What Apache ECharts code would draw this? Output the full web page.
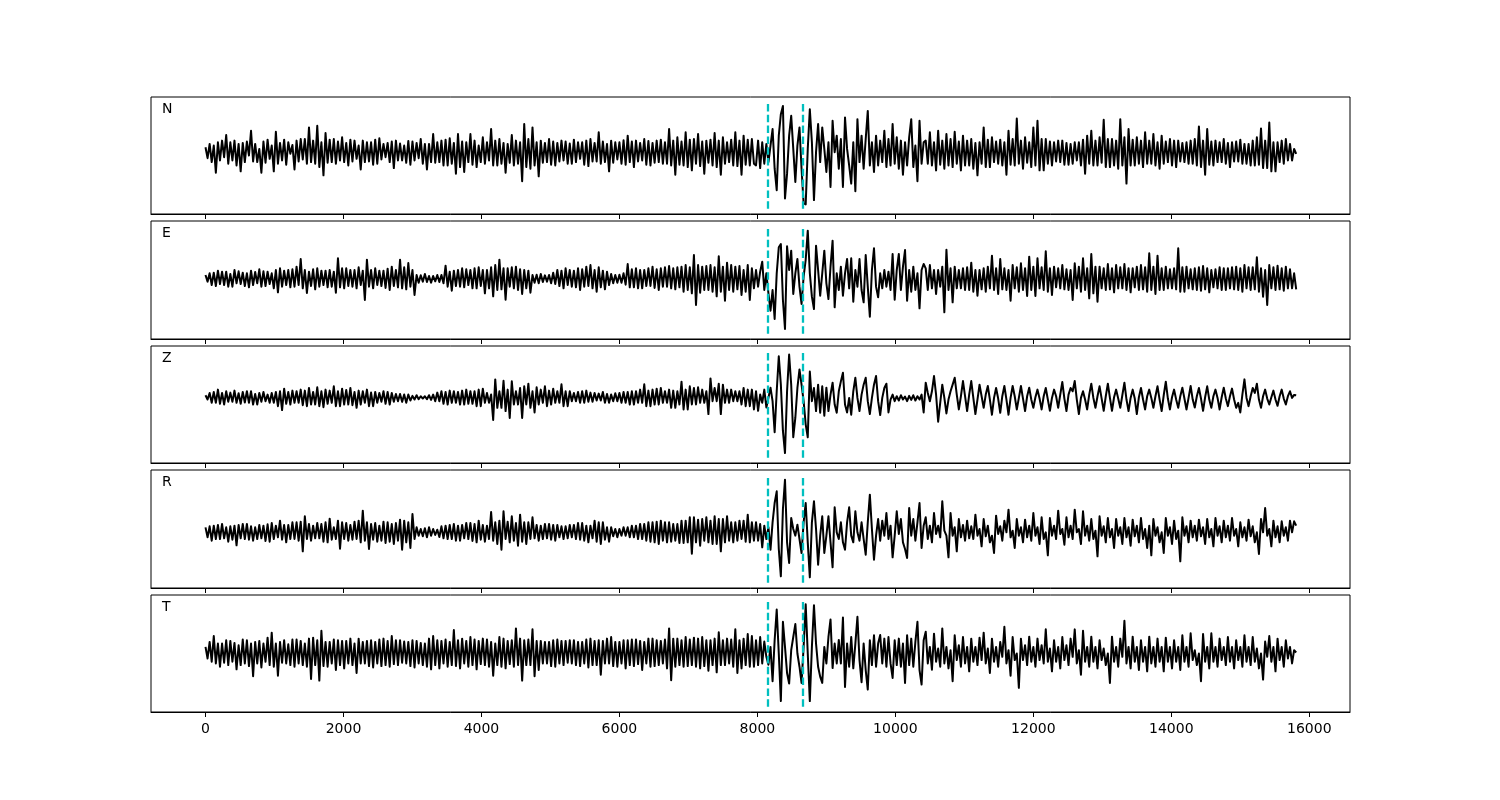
<!DOCTYPE html>
<html>
<head>
<meta charset="utf-8">
<script src="https://cdn.jsdelivr.net/npm/echarts@6/dist/echarts.min.js"></script>
<style>
  html, body { margin: 0; padding: 0; background: #fff; }
  #chart { width: 1500px; height: 800px; }
</style>
</head>
<body>
<div id="chart"></div>
<script>
// ---- data (amplitudes; sample interval 30) ----
const panelNames = ['N', 'E', 'Z', 'R', 'T'];
const sampleStep = 30;
// first sample index of each stretch: pre-event noise, arrival window, coda
const segmentStart = [0, 266, 348];
const picks = [8150, 8660];
const xTickValues = [0, 2000, 4000, 6000, 8000, 10000, 12000, 14000, 16000];

const N_pre = [
  25,-8, 35,-20, 30,-52, 40,-15, 45,-5, 62,-25, 40,-15, 45,-30, 35,-48, 38,-20,
  42,0, 75,-18, 35,-20, 20,-52, 42,-22, 48,-10, 30,-48, 72,-25, 38,-15, 48,-28,
  40,5, 32,-42, 45,-18, 50,-12, 50,-25, 85,-20, 45,-25, 90,-35, 40,-60, 68,-22,
  48,-20, 50,-25, 42,-15, 55,-20, 38,-30, 48,-18, 45,-10, 30,-42, 45,-20, 40,-18,
  40,-28, 48,-25, 52,-12, 35,-5, 38,-20, 42,-38, 45,-15, 36,-15, 30,-22, 44,-28,
  42,-15, 38,-8, 50,-25, 35,-42, 35,-20, 65,-22, 40,-20, 45,-30, 48,-30, 52,-25,
  38,-55, 65,-35, 42,-50, 40,-20, 65,-28, 45,-35, 30,-20, 55,-25, 40,-15, 80,-30,
  45,-30, 50,-25, 38,-52, 35,-22, 62,-30, 45,-25, 40,-78, 95,-35, 50,-40, 85,-30,
  40,-63, 45,-22, 38,-20, 50,-28, 42,-30, 38,-18, 45,-15, 42,-25, 36,-25, 48,-20,
  40,-10, 40,-28, 45,-32, 50,-18, 38,-18, 70,-25, 42,-20, 35,-48, 45,-22, 40,-12,
  40,-25, 46,-28, 60,-20, 42,-35, 45,-18, 38,-15, 50,-28, 44,-30, 38,-22, 45,-20,
  48,-25, 40,-25, 80,-30, 45,-58, 55,-28, 42,-30, 70,-35, 48,-45, 50,-25, 65,-32,
  42,-55, 45,-22, 48,-30, 68,-35, 45,-58, 55,-25, 40,-20, 48,-30, 70,-32, 45,-58,
  60,-28, 48,-30, 50,-25
];
const N_arrival = [
  -30, 45, -38, 40, -25, 35, -20, 30, 80, -40,
  -105, 60, 125, 150, -130, -55, 60, 120, 20, -80,
  30, 85, -40, -145, -148, 20, 140, 40, -135, 10,
  95, -20, 85, 20, -50, 40, -95, 105, 10, 60,
  -40, 50, -95, 115, 20, -30, -85, 40, -108, 110,
  -20, 60, -40, 50, 135, -30, 40, -50, 60, -30,
  45, -20, 75, -35, 50, -30, 95, -25, 55, -40,
  45, -58, 40, -30, 55, 110, -35, 30, -78, 105,
  -25, 40
];
const N_coda = [
  45,-25, 70,-30, 40,-45, 75,-28, 45,-40, 65,-30, 50,-35, 72,-25, 42,-45, 60,-30,
  45,-30, 50,-40, 38,-60, 40,-25, 85,-35, 48,-35, 55,-20, 42,-25, 48,-30, 40,-58,
  75,-28, 50,-30, 112,-25, 45,-40, 55,-22, 40,-35, 85,-30, 105,-45, 50,-45, 50,-25,
  42,-30, 40,-18, 45,-20, 45,-28, 38,-28, 35,-25, 40,-15, 40,-30, 48,-55, 60,-25,
  75,-30, 45,-30, 55,-22, 108,-35, 50,-35, 50,-30, 45,-40, 110,-30, 55,-85, 80,-30,
  48,-30, 55,-25, 45,-35, 70,-25, 45,-25, 65,-30, 40,-40, 60,-25, 42,-20, 50,-30,
  45,-35, 45,-18, 38,-20, 40,-25, 45,-25, 50,-30, 88,-35, 45,-58, 80,-28, 42,-30,
  45,-20, 40,-20, 50,-25, 38,-35, 40,-18, 42,-18, 48,-25, 35,-25, 35,-30, 45,-30,
  55,-28, 82,-38, 45,-38, 100,-48, 40,-48, 40,-20, 45,-25, 50,-15, 35,-15, 20,5
];

const E_pre = [
  15,-5, 20,-15, 22,-18, 28,-12, 25,-15, 25,-20, 18,-20, 30,-10, 26,-12, 22,-18,
  20,-22, 28,-15, 24,-10, 32,-20, 26,-18, 25,-12, 20,-25, 30,-37, 35,-20, 28,-15,
  30,-22, 32,-20, 40,-15, 63,-25, 30,-39, 25,-18, 32,-28, 35,-20, 28,-15, 28,-22,
  30,-20, 25,-38, 65,-22, 35,-25, 35,-18, 30,-20, 30,-25, 38,-15, 28,-60, 61,-20,
  30,-25, 35,-15, 28,-18, 28,-24, 34,-30, 40,-18, 30,-22, 61,-25, 38,-28, 51,-20,
  30,-45, 15,-8, 14,-5, 18,-6, 12,-8, 12,-4, 15,-6, 15,-10, 43,-20, 25,-32,
  28,-18, 30,-20, 35,-22, 32,-15, 30,-25, 35,-25, 38,-18, 30,-40, 30,-25, 38,-49,
  45,-30, 61,-28, 35,-59, 35,-20, 38,-25, 40,-30, 32,-42, 30,-25, 28,-38, 15,-8,
  16,-10, 18,-6, 14,-5, 15,-10, 22,-12, 30,-18, 28,-25, 35,-15, 30,-20, 28,-22,
  35,-30, 32,-20, 40,-18, 45,-25, 30,-35, 38,-22, 28,-28, 25,-15, 18,-10, 15,-8,
  16,-8, 20,-14, 48,-22, 32,-22, 35,-25, 30,-25, 30,-18, 35,-18, 40,-24, 32,-30,
  35,-20, 38,-20, 42,-25, 35,-28, 38,-22, 40,-35, 45,-30, 38,-40, 75,-75, 45,-38,
  40,-30, 42,-30, 45,-35, 38,-49, 71,-35, 40,-62, 52,-30, 45,-35, 40,-28, 42,-45,
  30,-35, 45,-60, 35,-25
];
const E_arrival = [
  30, -20, 25, 55, -30, 20, -40, -92, -30, -117,
  20, 98, 108, -60, -147, 101, 30, 88, -42, 20,
  63, -20, -72, 10, 60, 148, 20, -50, -87, 103,
  30, -47, 20, 88, -10, -57, 40, 118, -82, 20,
  -30, 40, -47, 20, 63, -25, 65, -65, 30, -20,
  63, -30, -67, 75, -20, -110, 30, 95, -20, -52,
  20, -25, 30, -20, 25, -30, 78, -59, 30, 78,
  -30, 40, 90, -62, 30, -35, 40, -30, 20, -85,
  30, 48
];
const E_coda = [
  35,-30, 45,-25, 30,-42, 30,-20, 40,-97, 91,-30, 35,-67, 40,-25, 30,-25, 35,-30,
  38,-30, 52,-35, 30,-47, 30,-28, 35,-35, 40,-25, 73,-30, 35,-42, 63,-28, 35,-30,
  30,-62, 45,-25, 38,-35, 50,-30, 35,-48, 70,-30, 40,-48, 65,-25, 38,-30, 86,-35,
  35,-45, 40,-22, 35,-25, 45,-28, 32,-30, 30,-60, 50,-25, 40,-35, 65,-30, 35,-55,
  78,-40, 40,-65, 40,-25, 35,-30, 48,-28, 35,-37, 45,-25, 38,-25, 48,-30, 35,-37,
  35,-22, 40,-30, 45,-28, 38,-35, 80,-30, 40,-42, 73,-30, 35,-30, 40,-25, 32,-25,
  35,-28, 95,-35, 38,-35, 40,-25, 32,-28, 35,-30, 38,-32, 42,-28, 35,-37, 30,-22,
  32,-25, 38,-30, 35,-30, 35,-25, 38,-28, 40,-30, 35,-35, 45,-25, 38,-30, 38,-28,
  68,-35, 35,-50, 30,-75, 45,-25, 38,-30, 43,-28, 35,-32, 40,-25, 32,-25, 20,-28
];

const Z_pre = [
  28,15, 35,5, 38,5, 45,2, 35,0, 40,8, 36,8, 42,5, 34,2, 38,6,
  40,5, 40,0, 32,0, 35,8, 38,10, 30,5, 35,5, 38,-5, 40,-17, 48,2,
  38,0, 42,5, 40,5, 45,-2, 42,-5, 50,0, 38,0, 52,-5, 40,-8, 45,2,
  42,5, 55,-5, 40,-5, 48,0, 44,0, 50,-2, 38,-10, 42,0, 40,5, 45,-5,
  36,-5, 38,5, 35,8, 40,2, 38,0, 35,8, 32,10, 32,8, 30,5, 30,12,
  26,15, 28,16, 25,18, 25,16, 28,14, 30,10, 36,10, 40,2, 38,0, 42,5,
  40,5, 38,0, 42,0, 45,2, 40,2, 40,-5, 45,-5, 48,5, 35,5, 30,-47,
  76,-10, 40,-10, 72,-20, 45,-41, 70,0, 40,0, 50,-41, 55,0, 63,-10, 40,-24,
  52,0, 45,5, 55,-5, 42,0, 48,5, 40,5, 61,-5, 40,-5, 40,10, 35,10,
  38,5, 40,5, 42,8, 36,8, 35,12, 33,12, 38,5, 32,5, 30,10, 34,10,
  35,5, 38,5, 38,0, 40,0, 40,5, 45,5, 61,-5, 42,-5, 45,0, 48,0,
  50,5, 40,5, 45,-10, 42,-10, 40,0, 69,-15, 45,-15, 55,0, 50,0, 52,5,
  45,5, 40,-29, 79,10, 50,10, 63,-29, 60,5, 45,5, 45,10, 40,10, 40,0,
  50,-5, 45,-5, 45,-15
];
const Z_arrival = [
  40, -19, 30, 5, 45, -9, 20, 51, 10, -84,
  40, 146, 60, -80, -147, 40, 151, 60, -99, -40,
  50, 106, 60, 10, -60, -99, 100, 10, 50, -20,
  60, -25, 55, -34, 51, -20, 30, 66, 0, -25,
  40, 70, 96, 0, -24, 20, -31, 40, 81, 20,
  -20, 30, 60, 81, 10, -29, 20, 60, 86, 10,
  -32, 20, 50, 63, -24, 15, 30, 10, 25, 12,
  28, 15, 24, 10, 26, 14, 28, 12, 25, 15,
  30, -24
];
const Z_coda = [
  66,35, 10,40, 86,30, -52,5, 60,20, -27,15, 40,60, 81,30, -15,25, 71,25,
  -20,30, 71,20, -29,15, 60,25, -10,30, 56,15, -31,20, 50,18, -25,25, 56,15,
  -31,20, 56,25, -15,20, 56,18, -20,25, 51,15, -10,22, 45,18, -15,25, 50,15,
  -19,20, 45,25, -10,30, 68,18, -20,30, 50,40, 71,15, -29,20, 40,15, -15,30,
  63,20, -10,25, 55,18, -19,25, 63,20, -19,22, 45,18, -10,28, 66,15, -20,20,
  45,18, -29,22, 50,15, -15,25, 45,20, -10,25, 55,15, -20,28, 69,18, -15,22,
  45,15, -10,25, 51,18, -15,20, 56,15, -9,25, 50,18, -19,22, 55,15, -10,25,
  45,20, -15,22, 51,18, -5,25, 48,15, -10,5, -24,30, 76,20, -5,25, 50,35,
  63,15, -10,25, 45,18, 0,22, 42,15, -4,25, 45,18, 0,25, 40,20, 29,28
];

const R_pre = [
  5,-25, 8,-35, 10,-30, 12,-30, 15,-28, 5,-38, 8,-32, 10,-49, 12,-28, 15,-30,
  15,-32, 8,-35, 5,-30, 12,-28, 10,-36, 14,-38, 18,-30, 10,-25, 25,-32, 12,-40,
  12,-30, 20,-30, 20,-35, 22,-67, 38,-30, 15,-35, 10,-28, 18,-28, 15,-38, 20,-40,
  31,-32, 5,-30, 25,-59, 20,-30, 18,-35, 12,-32, 22,-30, 25,-40, 55,-35, 20,-60,
  15,-32, 18,-38, 10,-35, 22,-42, 20,-38, 15,-45, 18,-35, 28,-62, 25,-40, 20,-57,
  45,-30, 5,-20, 0,-22, 2,-25, 5,-20, 0,-18, -2,-24, 8,-28, 10,-30, 12,-30,
  15,-35, 10,-35, 12,-28, 18,-30, 18,-36, 15,-40, 25,-32, 12,-38, 10,-30, 51,-35,
  20,-45, 25,-62, 53,-30, 22,-40, 38,-35, 18,-50, 43,-38, 20,-45, 20,-30, 35,-28,
  12,-35, 10,-30, 15,-28, 15,-32, 12,-35, 12,-25, 8,-30, 8,-28, 12,-25, 12,-30,
  18,-32, 18,-35, 10,-40, 10,-28, 25,-38, 20,-45, 20,-32, 5,-38, 5,-22, 0,-25,
  0,-20, 5,-20, 5,-25, 10,-25, 10,-30, 15,-30, 15,-35, 20,-38, 20,-40, 22,-45,
  25,-35, 20,-40, 20,-38, 15,-35, 15,-42, 25,-42, 25,-40, 35,-74, 35,-40, 28,-50,
  30,-35, 35,-40, 25,-45, 38,-45, 30,-67, 30,-40, 38,-35, 20,-40, 20,-35, 25,-30,
  25,-38, 43,-40, 20,-35
];
const R_arrival = [
  20, -35, 15, -55, 10, -30, 5, -62, 20, 78,
  113, -60, -142, 60, 148, -40, -102, 33, 0, -20,
  13, -30, -72, 20, 78, -40, -145, 20, 83, 0,
  -107, -20, 38, -72, -20, 38, -40, -115, 65, -10,
  -30, 20, -40, -62, 20, 65, -20, -40, 53, -10,
  -35, 20, -30, -77, 20, 103, 0, -92, -20, 30,
  -35, 25, -20, 48, -30, 10, -85, -20, 53, -15,
  30, -40, -60, -87, 63, -20, 30, -35, 20, 78,
  -57, 10
];
const R_coda = [
  35,-30, 10,-40, 48,-15, 10,-25, 83,-5, -20,-85, 48,-20, 5,-67, 30,-25, 12,-35,
  25,-28, 8,-30, 43,-20, 0,-52, 30,-22, 10,-40, -20,-72, 40,-15, 8,-35, 25,-10,
  58,-25, -5,-57, 30,-20, 5,-40, 28,-25, 10,-35, 48,-20, 5,-45, 35,-30, -10,-79,
  33,-20, 10,-30, 55,-15, 0,-47, 35,-25, 10,-30, 58,-10, 0,-45, 53,-20, 10,-35,
  30,-30, -5,-82, 38,-20, 8,-40, 33,-25, 0,-57, 30,-20, 5,-45, 33,-25, 5,-50,
  28,-22, 10,-40, 33,-30, 0,-57, 10,-79, 30,-20, 5,-40, -10,-72, 33,-20, 5,-45,
  25,-30, -5,-97, 35,-20, 8,-40, 25,-25, 10,-35, 28,-22, 5,-45, 30,-25, 0,-52,
  33,-20, 8,-40, 25,-25, 10,-35, 33,-20, 0,-52, 20,-25, 5,-35, 28,-22, 8,-40,
  -10,-75, 30,-10, 63,-20, 0,-52, 25,-25, 8,-40, 23,-20, 5,-35, 25,-10, 23,10
];

const T_pre = [
  20,-15, 35,-25, 53,-30, 30,-40, 30,-28, 40,-35, 38,-25, 32,-48, 25,-35, 42,-30,
  40,-38, 30,-69, 35,-30, 38,-42, 30,-25, 48,-35, 63,-40, 30,-67, 35,-28, 40,-30,
  28,-35, 42,-40, 42,-30, 38,-35, 30,-40, 45,-77, 48,-35, 40,-82, 69,-38, 35,-40,
  35,-30, 42,-50, 40,-35, 38,-45, 38,-30, 45,-35, 30,-59, 45,-30, 35,-30, 38,-38,
  40,-42, 35,-30, 42,-38, 45,-35, 38,-40, 53,-32, 40,-35, 40,-28, 36,-30, 35,-38,
  40,-42, 38,-30, 32,-35, 30,-40, 45,-48, 53,-35, 40,-45, 38,-30, 42,-40, 35,-35,
  71,-38, 40,-45, 45,-30, 38,-40, 50,-35, 42,-48, 38,-32, 45,-35, 42,-40, 35,-67,
  30,-35, 50,-40, 45,-45, 38,-32, 40,-40, 76,-35, 45,-82, 40,-35, 42,-35, 73,-69,
  38,-50, 38,-30, 35,-30, 35,-38, 40,-40, 42,-30, 38,-35, 38,-28, 40,-30, 40,-35,
  35,-38, 35,-30, 42,-42, 45,-35, 38,-35, 40,-64, 38,-30, 45,-30, 50,-38, 35,-40,
  35,-30, 40,-45, 40,-35, 42,-38, 42,-32, 38,-50, 35,-30, 45,-40, 45,-38, 40,-35,
  38,-30, 42,-45, 76,-81, 45,-40, 45,-35, 40,-40, 50,-38, 42,-35, 48,-40, 45,-45,
  50,-38, 40,-52, 40,-35, 45,-57, 64,-35, 40,-35, 45,-30, 42,-40, 73,-59, 40,-45,
  45,-35, 59,-40, 53,-40
];
const T_arrival = [
  40, -35, 50, -30, 36, -10, -34, 20, -84, 40,
  133, 0, -144, 96, 20, -59, -91, 10, 50, 89,
  0, -40, -89, 20, 149, 0, -144, 20, 146, 30,
  -40, -70, -89, 20, -30, 50, 103, -44, 30, -30,
  41, -30, 109, -101, 30, -40, 50, -45, 30, 111,
  -20, -87, 30, -50, -109, 40, -35, 55, -40, 30,
  56, -30, 45, -40, 50, -30, -74, 40, -35, 45,
  -40, 30, -89, 55, -35, 45, -40, 35, 96, -50,
  -94, 40
];
const T_coda = [
  66,-30, 20,-49, 60,-25, 15,-40, 76,-30, 20,-45, 10,-84, 55,-20, 25,-40, 50,-30,
  20,-54, 45,-25, 20,-35, 48,-20, 63,-30, 15,-59, 45,-25, 20,-40, 35,-10, 81,-30,
  10,-67, 50,-20, 0,-104, 45,-20, 25,-35, 51,-25, 20,-40, 45,-20, 25,-30, 73,-25,
  15,-54, 40,-25, 20,-45, 50,-20, 25,-35, 45,-10, 73,-30, 10,-64, 69,-25, 20,-40,
  51,-25, 20,-45, 40,-20, 15,-35, 0,-89, 51,-25, 20,-40, 45,-10, 99,-30, 20,-45,
  51,-25, 20,-50, 40,-25, 20,-54, 51,-30, 20,-40, 45,-25, 20,-54, 48,-25, 20,-45,
  40,-25, 20,-50, 55,-25, 20,-40, 61,-20, 10,-35, 0,-84, 59,-25, 20,-45, 61,-25,
  20,-40, 45,-20, 20,-35, 50,-25, 20,-45, 40,-20, 20,-40, 55,-25, 20,-35, 50,-25,
  15,-45, 0,-79, 36,-10, 53,-25, 20,-54, 45,-20, 20,-40, 40,-15, 20,-30, 10,3
];

const traceSegments = [
  [N_pre, N_arrival, N_coda],
  [E_pre, E_arrival, E_coda],
  [Z_pre, Z_arrival, Z_coda],
  [R_pre, R_arrival, R_coda],
  [T_pre, T_arrival, T_coda]
];

// ---- layout ----
const gridTops = [97, 221, 346, 470, 595];
const gridHeights = [117, 118, 117, 118, 117];
const gridLeft = 151, gridWidth = 1199;
const xMin = -790, xMax = 16590;
const yLim = 177;
const pickSpan = 161;
const font = 'DejaVu Sans';

function buildData(segs) {
  const out = [];
  segs.forEach((seg, s) => {
    seg.forEach((v, k) => out.push([(segmentStart[s] + k) * sampleStep, v]));
  });
  return out;
}

const chart = echarts.init(document.getElementById('chart'), null, { renderer: 'canvas' });

const grids = [], xAxes = [], yAxes = [], series = [], graphics = [];
panelNames.forEach((name, k) => {
  const isLast = k === panelNames.length - 1;
  grids.push({
    left: gridLeft, top: gridTops[k], width: gridWidth, height: gridHeights[k],
    show: true, borderColor: '#000', borderWidth: 1, backgroundColor: 'transparent'
  });
  xAxes.push({
    type: 'value', gridIndex: k, min: xMin, max: xMax,
    axisLine: { show: true, onZero: false, lineStyle: { color: '#000', width: 1 } },
    axisTick: { show: true, inside: false, length: 5, customValues: xTickValues,
      lineStyle: { color: '#000', width: 1 } },
    axisLabel: { show: isLast, customValues: xTickValues, margin: 10,
      color: '#000', fontSize: 14, fontFamily: font,
      formatter: v => String(v) },
    splitLine: { show: false }
  });
  yAxes.push({
    type: 'value', gridIndex: k, min: -yLim, max: yLim, show: false,
    splitLine: { show: false }
  });
  series.push({
    type: 'line', xAxisIndex: k, yAxisIndex: k,
    data: buildData(traceSegments[k]),
    showSymbol: false, symbol: 'none', silent: true,
    lineStyle: { color: '#000', width: 2, join: 'round' },
    markLine: {
      silent: true, symbol: ['none', 'none'],
      label: { show: false },
      lineStyle: { color: '#00bfbf', width: 2.3, type: [7.5, 3.3], opacity: 1 },
      emphasis: { disabled: true },
      data: picks.map(p => [{ coord: [p, -pickSpan] }, { coord: [p, pickSpan] }])
    }
  });
  graphics.push({
    type: 'text', left: 162, top: gridTops[k] + 5,
    style: { text: name, fontSize: 14, fontFamily: font, fill: '#000' }
  });
});

chart.setOption({
  animation: false,
  backgroundColor: '#fff',
  grid: grids,
  xAxis: xAxes,
  yAxis: yAxes,
  series: series,
  graphic: graphics
});
</script>
</body>
</html>
